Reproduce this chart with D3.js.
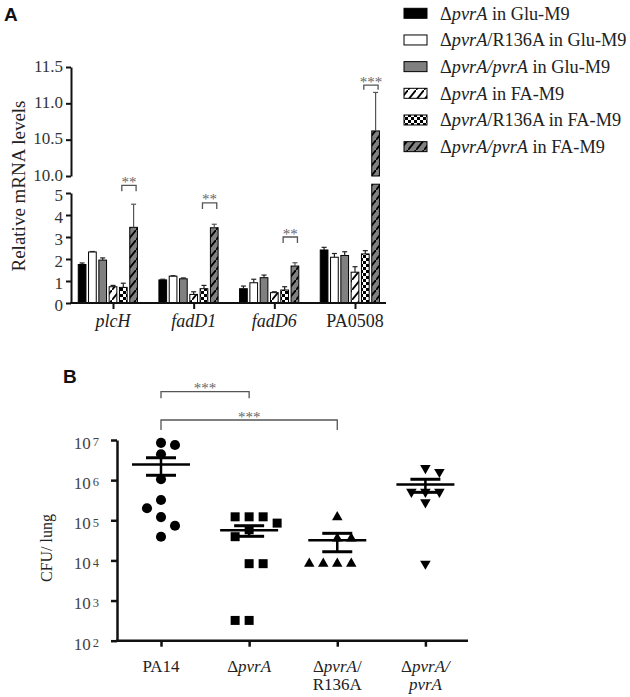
<!DOCTYPE html>
<html><head><meta charset="utf-8">
<script src="https://cdn.jsdelivr.net/npm/d3@7"></script>
<style>body{margin:0;background:#fff}svg{display:block}</style>
</head><body>
<svg id="c" width="630" height="697"></svg>
<script>
// ---------------- Panel A data ----------------
const genes = ["plcH", "fadD1", "fadD6", "PA0508"];
const geneItalic = [true, true, true, false];
const seriesKeys = ["gluPvrA", "gluR136A", "gluComp", "faPvrA", "faR136A", "faComp"];
const gluPvrA  = [1.75, 1.05, 0.65, 2.41];
const gluR136A = [2.32, 1.22, 0.92, 2.08];
const gluComp  = [1.95, 1.10, 1.15, 2.16];
const faPvrA   = [0.74, 0.39, 0.47, 1.40];
const faR136A  = [0.71, 0.65, 0.59, 2.23];
const faComp   = [3.44, 3.42, 1.68, 10.62];
const gluPvrAErr  = [0.07, 0.03, 0.12, 0.12];
const gluR136AErr = [0.02, 0.02, 0.16, 0.17];
const gluCompErr  = [0.10, 0.04, 0.12, 0.17];
const faPvrAErr   = [0.06, 0.12, 0.04, 0.25];
const faR136AErr  = [0.19, 0.15, 0.15, 0.15];
const faCompErr   = [1.05, 0.16, 0.15, 0.53];
const sigLabelsA = ["**", "**", "**", "***"];
const sigLevelsA = [5.35, 4.55, 3.0, 11.25];
const yTicksLow = [0, 1, 2, 3, 4, 5];
const yTicksUp = [10.0, 10.5, 11.0, 11.5];
const legendLabels = [
  [["Δ",0],["pvrA",1],[" in Glu-M9",0]],
  [["Δ",0],["pvrA",1],["/R136A in Glu-M9",0]],
  [["Δ",0],["pvrA/pvrA",1],[" in Glu-M9",0]],
  [["Δ",0],["pvrA",1],[" in FA-M9",0]],
  [["Δ",0],["pvrA",1],["/R136A in FA-M9",0]],
  [["Δ",0],["pvrA/pvrA",1],[" in FA-M9",0]]
];

// ---------------- Panel B data ----------------
const bGroups = ["PA14", "dPvrA", "dPvrA_R136A", "dPvrA_pvrA"];
const bLabels = [
  [[["PA14",0]]],
  [[["Δ",0],["pvrA",1]]],
  [[["Δ",0],["pvrA",1],["/",0]], [["R136A",0]]],
  [[["Δ",0],["pvrA",1],["/",1]], [["pvrA",1]]]
];
const cfuPA14  = [8.5e6, 7.5e6, 4.4e6, 1.05e6, 3.2e5, 2.0e5, 1.2e5, 7.3e4, 3.9e4];
const cfuPvrA  = [1.22e5, 1.22e5, 1.22e5, 8.5e4, 5.8e4, 3.9e4, 8.3e3, 8.3e3, 3.2e2, 3.2e2];
const cfuR136A = [1.2e5, 3.5e4, 3.5e4, 8.3e3, 8.3e3, 8.3e3, 8.3e3];
const cfuComp  = [2.0e6, 1.6e6, 5.1e5, 5.1e5, 5.1e5, 2.8e5, 8.3e3];
const bTicks = [1e2, 1e3, 1e4, 1e5, 1e6, 1e7];
const bSig = [[0, 1, "***"], [0, 2, "***"]];

// ---------------- setup ----------------
const serif = "'Liberation Serif','Times New Roman',serif";
const sans = "'Liberation Sans',Arial,sans-serif";
const svg = d3.select("#c");
const defs = svg.append("defs");

function hatch(id, bg) {
  const p = defs.append("pattern").attr("id", id).attr("patternUnits", "userSpaceOnUse")
    .attr("width", 8).attr("height", 10);
  p.append("rect").attr("width", 8).attr("height", 10).attr("fill", bg);
  p.append("path").attr("d", "M-1,11.25L9,-1.25").attr("stroke", "#000").attr("stroke-width", 1.8);
}
hatch("hatchW", "#fff");
hatch("hatchG", "#808080");
const ck = defs.append("pattern").attr("id", "checker").attr("patternUnits", "userSpaceOnUse")
  .attr("width", 6).attr("height", 6);
ck.append("rect").attr("width", 6).attr("height", 6).attr("fill", "#fff");
ck.append("rect").attr("width", 3).attr("height", 3).attr("fill", "#000");
ck.append("rect").attr("x", 3).attr("y", 3).attr("width", 3).attr("height", 3).attr("fill", "#000");

const fills = ["#000", "#fff", "#808080", "url(#hatchW)", "url(#checker)", "url(#hatchG)"];
const seriesVals = [gluPvrA, gluR136A, gluComp, faPvrA, faR136A, faComp];
const seriesErrs = [gluPvrAErr, gluR136AErr, gluCompErr, faPvrAErr, faR136AErr, faCompErr];

function richText(sel, parts) {
  parts.forEach(([t, it]) => sel.append("tspan").attr("font-style", it ? "italic" : "normal").text(t));
}

// ---------------- Panel A ----------------
svg.append("text").attr("x", 4).attr("y", 21).attr("font-family", sans).attr("font-weight", "bold")
  .attr("font-size", 19).attr("fill", "#111").text("A");

const xA = d3.scalePoint().domain(genes).range([113, 355]);
const yLow = d3.scaleLinear().domain([0, 5]).range([303, 193]);
const yUp = d3.scaleLinear().domain([10, 11.5]).range([176, 67]);
const yAny = v => v >= 10 ? yUp(v) : yLow(v);
const barStep = 10.3, barW = 7.7;
const bx = (g, s) => xA(g) + (s - 3) * barStep;

const gA = svg.append("g");
// bars
seriesVals.forEach((vals, s) => {
  vals.forEach((v, gi) => {
    const g = genes[gi], cx = bx(g, s), e = seriesErrs[s][gi];
    if (v >= 10) {
      gA.append("rect").attr("x", cx - barW / 2).attr("y", yLow(5.4)).attr("width", barW)
        .attr("height", yLow(0) - yLow(5.4)).attr("fill", fills[s]).attr("stroke", "#000").attr("stroke-width", 1);
      gA.append("rect").attr("x", cx - barW / 2).attr("y", yUp(v)).attr("width", barW)
        .attr("height", yUp(10) - yUp(v)).attr("fill", fills[s]).attr("stroke", "#000").attr("stroke-width", 1);
    } else {
      gA.append("rect").attr("x", cx - barW / 2).attr("y", yLow(v)).attr("width", barW)
        .attr("height", yLow(0) - yLow(v)).attr("fill", fills[s]).attr("stroke", "#000").attr("stroke-width", 1);
    }
    const y0 = yAny(v), y1 = yAny(v + e);
    const ec = s === 5 ? "#555" : "#222";
    gA.append("line").attr("x1", cx).attr("x2", cx).attr("y1", y0).attr("y2", y1).attr("stroke", ec).attr("stroke-width", 1.2);
    gA.append("line").attr("x1", cx - 2.5).attr("x2", cx + 2.5).attr("y1", y1).attr("y2", y1).attr("stroke", ec).attr("stroke-width", 1.2);
  });
});

// axes A
const axUp = gA.append("g").attr("transform", "translate(71,0)")
  .call(d3.axisLeft(yUp).tickValues(yTicksUp).tickFormat(d3.format(".1f")).tickSize(5).tickSizeOuter(0).tickPadding(3));
const axLow = gA.append("g").attr("transform", "translate(71,0)")
  .call(d3.axisLeft(yLow).tickValues(yTicksLow).tickFormat(d3.format("d")).tickSize(5).tickSizeOuter(0).tickPadding(3));
[axUp, axLow].forEach(a => {
  a.selectAll("path,line").attr("stroke", "#111").attr("stroke-width", 2);
  a.selectAll("text").attr("font-family", serif).attr("font-size", 17).attr("fill", "#333");
});
axUp.selectAll("text").attr("dy", "0.25em");
axLow.selectAll("text").attr("dy", "0.42em");
gA.append("line").attr("x1", 70).attr("x2", 386).attr("y1", yLow(0)).attr("y2", yLow(0))
  .attr("stroke", "#111").attr("stroke-width", 2);
const axXA = gA.append("g").attr("transform", `translate(0,${yLow(0)})`)
  .call(d3.axisBottom(xA).tickSize(6).tickSizeOuter(0).tickFormat(""));
axXA.select(".domain").remove();
axXA.selectAll("line").attr("stroke", "#111").attr("stroke-width", 2);
genes.forEach((g, i) => {
  gA.append("text").attr("x", xA(g)).attr("y", 327).attr("text-anchor", "middle")
    .attr("font-family", serif).attr("font-size", 18).attr("fill", "#222")
    .attr("font-style", geneItalic[i] ? "italic" : "normal").text(g);
});
gA.append("text").attr("transform", "translate(25,186) rotate(-90)").attr("text-anchor", "middle")
  .attr("font-family", serif).attr("font-size", 19).attr("fill", "#222").text("Relative mRNA levels");

// significance A
genes.forEach((g, i) => {
  const x1 = bx(g, 4) - 1.5, x2 = bx(g, 5) + 2.5, y = yAny(sigLevelsA[i]);
  const leg = i === 3 ? 4.5 : 6;
  gA.append("path").attr("d", `M${x1},${y + leg}V${y}H${x2}V${y + leg}`).attr("fill", "none")
    .attr("stroke", "#555").attr("stroke-width", 1.3);
  gA.append("text").attr("x", (x1 + x2) / 2).attr("y", y + 1.5).attr("text-anchor", "middle")
    .attr("font-family", serif).attr("font-size", 15).attr("fill", "#666").text(sigLabelsA[i]);
});

// legend
legendLabels.forEach((parts, i) => {
  const cy = 13.3 + i * 26.67;
  svg.append("rect").attr("x", 404).attr("y", cy - 5).attr("width", 23).attr("height", 10)
    .attr("fill", fills[i]).attr("stroke", "#000").attr("stroke-width", 1);
  const t = svg.append("text").attr("x", 440).attr("y", cy + 6.4).attr("font-family", serif)
    .attr("font-size", 18.3).attr("fill", "#222");
  richText(t, parts);
});

// ---------------- Panel B ----------------
svg.append("text").attr("x", 63).attr("y", 383).attr("font-family", sans).attr("font-weight", "bold")
  .attr("font-size", 19).attr("fill", "#111").text("B");

const xB = d3.scalePoint().domain(bGroups).range([161, 425.4]);
const yB = d3.scaleLog().domain([1e2, 1e7]).range([640.7, 440]);
const gB = svg.append("g");

const axYB = gB.append("g").attr("transform", "translate(117,0)")
  .call(d3.axisLeft(yB).tickValues(bTicks).tickSize(6).tickSizeOuter(0).tickPadding(12).tickFormat(""));
axYB.selectAll("path,line").attr("stroke", "#111").attr("stroke-width", 2.5);
axYB.selectAll(".tick text").each(function (d) {
  const t = d3.select(this).attr("dy", null).attr("y", 8.3).attr("font-family", serif)
    .attr("font-size", 17).attr("fill", "#444");
  t.append("tspan").text("10");
  t.append("tspan").attr("dx", 2).attr("dy", -2.5).attr("font-size", 12.5).text(Math.round(Math.log10(d)));
});
gB.append("line").attr("x1", 116).attr("x2", 468).attr("y1", yB(1e2)).attr("y2", yB(1e2))
  .attr("stroke", "#111").attr("stroke-width", 2.5);
const axXB = gB.append("g").attr("transform", `translate(0,${yB(1e2)})`)
  .call(d3.axisBottom(xB).tickSize(6).tickSizeOuter(0).tickFormat(""));
axXB.select(".domain").remove();
axXB.selectAll("line").attr("stroke", "#111").attr("stroke-width", 2.5);
bLabels.forEach((lines, i) => {
  lines.forEach((parts, li) => {
    const t = gB.append("text").attr("x", xB(bGroups[i])).attr("y", 671.5 + li * 18)
      .attr("text-anchor", "middle").attr("font-family", serif).attr("font-size", 17).attr("fill", "#222");
    richText(t, parts);
  });
});
gB.append("text").attr("transform", "translate(52,548) rotate(-90)").attr("text-anchor", "middle")
  .attr("font-family", serif).attr("font-size", 16).attr("fill", "#222").text("CFU/ lung");

// points
const bData = [cfuPA14, cfuPvrA, cfuR136A, cfuComp];
const symbols = [
  d3.symbol().type(d3.symbolCircle).size(80),
  d3.symbol().type(d3.symbolSquare).size(81),
  d3.symbol().type(d3.symbolTriangle).size(48),
  d3.symbol().type(d3.symbolTriangle).size(48)
];
bData.forEach((vals, gi) => {
  const cx = xB(bGroups[gi]);
  const placed = [];
  let side = 1;
  const minD = 10, step = 14;
  vals.forEach(v => {
    const py = yB(v);
    const clash = dx => placed.some(p => Math.abs(p.y - py) < minD && Math.abs(p.dx - dx) < minD);
    let dx = 0;
    if (clash(0)) {
      for (let k = 1; k < 5; k++) {
        const a = side * step * k, b = -side * step * k;
        if (!clash(a)) { dx = a; side = -side; break; }
        if (!clash(b)) { dx = b; break; }
      }
    }
    placed.push({ y: py, dx });
    gB.append("path").attr("d", symbols[gi]())
      .attr("transform", `translate(${cx + dx},${py})` + (gi === 3 ? " rotate(180)" : ""))
      .attr("fill", "#000");
  });
  // mean and SEM
  const m = d3.mean(vals), sem = d3.deviation(vals) / Math.sqrt(vals.length);
  const yM = yB(m), yHi = yB(m + sem), yLo = yB(m - sem);
  gB.append("line").attr("x1", cx - 29).attr("x2", cx + 29).attr("y1", yM).attr("y2", yM).attr("stroke", "#000").attr("stroke-width", 2.5);
  gB.append("line").attr("x1", cx).attr("x2", cx).attr("y1", yHi).attr("y2", yLo).attr("stroke", "#000").attr("stroke-width", 2.5);
  [yHi, yLo].forEach(yy => gB.append("line").attr("x1", cx - 15).attr("x2", cx + 15).attr("y1", yy).attr("y2", yy)
    .attr("stroke", "#000").attr("stroke-width", 3));
});

// significance B
const bracketY = [yB(1e7) - 48.3, yB(1e7) - 20];
const bracketLeg = [6.5, 10];
bSig.forEach(([a, b, lab], i) => {
  const x1 = xB(bGroups[a]), x2 = xB(bGroups[b]), y = bracketY[i];
  gB.append("path").attr("d", `M${x1},${y + bracketLeg[i]}V${y}H${x2}V${y + bracketLeg[i]}`)
    .attr("fill", "none").attr("stroke", "#555").attr("stroke-width", 1.3);
  gB.append("text").attr("x", (x1 + x2) / 2).attr("y", y + 1.5).attr("text-anchor", "middle")
    .attr("font-family", serif).attr("font-size", 15).attr("fill", "#666").text(lab);
});
</script>
</body></html>
